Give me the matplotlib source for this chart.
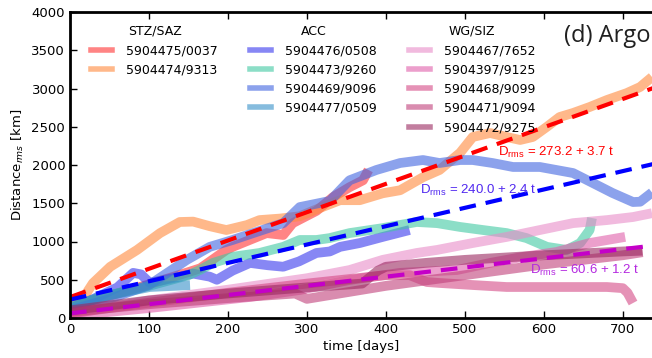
import numpy as np
import matplotlib
matplotlib.use('Agg')
import matplotlib.pyplot as plt
from matplotlib.lines import Line2D

# trajectories: time [days] / distance [km]
t_0037 = [0, 50, 100, 150, 165, 198, 206, 249, 270, 282, 312, 333, 354, 371, 378]
d_0037 = [150, 290, 440, 600, 650, 890, 930, 1110, 1085, 1240, 1400, 1580, 1710, 1800, 1935]

t_9313 = [0, 13, 29, 51, 85, 114, 139, 156, 177, 198, 224, 240, 266, 291, 312, 342, 367,
          396, 418, 447, 468, 494, 510, 532, 553, 570, 586, 604, 620, 637, 658, 680, 705, 722, 737]
d_9313 = [150, 200, 455, 670, 890, 1110, 1255, 1260, 1200, 1150, 1215, 1280, 1300, 1330, 1420,
          1540, 1540, 1630, 1670, 1840, 1935, 2160, 2366, 2418, 2366, 2327, 2366, 2500, 2627,
          2680, 2758, 2850, 2940, 3020, 3150]

t_0508 = [0, 30, 60, 80, 90, 101, 130, 156, 177, 186, 206, 228, 250, 270, 290, 312, 329,
          342, 367, 396, 430]
d_0508 = [120, 250, 400, 590, 570, 460, 520, 580, 540, 500, 620, 720, 690, 670, 740, 850,
          870, 930, 980, 1060, 1150]

t_9260 = [0, 50, 100, 150, 165, 181, 206, 240, 270, 291, 312, 329, 354, 396, 439, 465, 494,
          523, 553, 578, 604, 629, 646, 658, 661]
d_9260 = [150, 300, 420, 560, 630, 720, 800, 850, 930, 1020, 1020, 1045, 1110, 1175, 1255,
          1240, 1190, 1150, 1110, 1045, 930, 890, 980, 1150, 1307]

t_9096 = [0, 50, 100, 148, 177, 206, 232, 270, 291, 329, 354, 388, 418, 447, 468, 494, 510,
          535, 561, 595, 637, 662, 687, 713, 722, 737]
d_9096 = [100, 250, 430, 760, 930, 1020, 1110, 1240, 1450, 1530, 1800, 1935, 2026, 2065,
          2026, 2065, 2065, 2026, 1974, 1974, 1895, 1765, 1634, 1516, 1520, 1640]

t_0509 = [0, 38, 70, 101, 152]
d_0509 = [130, 275, 340, 405, 430]

t_7652 = [0, 100, 200, 300, 354, 396, 439, 465, 510, 553, 595, 637, 680, 713, 737]
d_7652 = [50, 230, 370, 520, 627, 760, 850, 890, 980, 1060, 1150, 1240, 1280, 1320, 1370]

t_9125 = [0, 100, 228, 291, 354, 418, 490, 532, 574, 616, 658, 703]
d_9125 = [30, 130, 275, 366, 497, 590, 627, 720, 800, 863, 980, 1060]

t_9099 = [0, 100, 200, 300, 400, 430, 452, 468, 510, 553, 595, 637, 680, 700, 706, 713]
d_9099 = [60, 200, 330, 450, 560, 560, 470, 458, 431, 405, 405, 405, 405, 390, 330, 196]

t_9094 = [0, 100, 200, 285, 300, 400, 500, 600, 700, 725]
d_9094 = [80, 180, 260, 320, 250, 420, 560, 700, 820, 860]

t_9275 = [0, 100, 200, 300, 370, 390, 400, 450, 500, 600, 700, 725]
d_9275 = [100, 230, 320, 400, 450, 620, 670, 720, 760, 820, 870, 880]

# linear fits D = a + b t
fit_stz = (273.2, 3.7)
fit_acc = (240.0, 2.4)
fit_wg = (60.6, 1.2)

stz = [('5904475/0037', t_0037, d_0037, '#ff3333'),
       ('5904474/9313', t_9313, d_9313, '#ff8a3d')]
acc = [('5904476/0508', t_0508, d_0508, '#3838ee'),
       ('5904473/9260', t_9260, d_9260, '#40c8a2'),
       ('5904469/9096', t_9096, d_9096, '#4064e0'),
       ('5904477/0509', t_0509, d_0509, '#3590c8')]
wg = [('5904467/7652', t_7652, d_7652, '#e88cc8'),
      ('5904397/9125', t_9125, d_9125, '#e060aa'),
      ('5904468/9099', t_9099, d_9099, '#d54a86'),
      ('5904471/9094', t_9094, d_9094, '#c0407a'),
      ('5904472/9275', t_9275, d_9275, '#9a2860')]

fig = plt.figure(figsize=(6.52, 3.58), dpi=100)
ax = fig.add_axes([70/652, 40/358, 582/652, 306/358])

for group in (stz, acc, wg):
    for lab, t, d, c in group:
        ax.plot(t, d, color=c, lw=7, alpha=0.6, solid_capstyle='butt', solid_joinstyle='round')

tt = np.array([0, 760])
for (a, b), c in ((fit_stz, '#ff0000'), (fit_acc, '#0000ff'), (fit_wg, '#c400c8')):
    ax.plot(tt, a + b*tt, color=c, lw=3, linestyle=(0, (4, 2.4)))

ax.text(542, 2170, 'D$_{\\mathregular{rms}}$ = %.1f + %.1f t' % fit_stz, color='#ff0000',
        fontsize=9.5, family='Liberation Sans', va='center')
ax.text(443, 1673, 'D$_{\\mathregular{rms}}$ = %.1f + %.1f t' % fit_acc, color='#5028f0',
        fontsize=9.5, family='Liberation Sans', va='center')
ax.text(582, 627, 'D$_{\\mathregular{rms}}$ = %.1f + %.1f t' % fit_wg, color='#b428e0',
        fontsize=9.5, family='Liberation Sans', va='center')
ax.text(625, 3680, '(d) Argo', fontsize=17, family='Open Sans', va='center', color='#202020')

legend_x = [0.017, 0.29, 0.563]
for x0, (title, group) in zip(legend_x, (('STZ/SAZ', stz), ('ACC', acc), ('WG/SIZ', wg))):
    handles = [Line2D([], [], color=c, lw=4, alpha=0.6) for lab, t, d, c in group]
    leg = ax.legend(handles, [g[0] for g in group], title=title, loc='upper left',
                    bbox_to_anchor=(x0, 0.995), frameon=False, fontsize=9, title_fontsize=9,
                    handlelength=1.7, handletextpad=1.1, labelspacing=0.5)
    ax.add_artist(leg)
ax.legend_ = None

ax.set_xlim(0, 737)
ax.set_ylim(0, 4000)
ax.set_xticks(range(0, 701, 100))
ax.set_yticks(range(0, 4001, 500))
ax.tick_params(direction='in', top=True, right=False, labelsize=9.5, length=5, width=1)
ax.spines['right'].set_visible(False)
for s in ('left', 'top', 'bottom'):
    ax.spines[s].set_linewidth(2)
ax.set_xlabel('time [days]', fontsize=9.5, labelpad=3)
ax.set_ylabel('Distance$_{rms}$ [km]', fontsize=9.5, labelpad=4)

fig.savefig('out.png', dpi=100)
